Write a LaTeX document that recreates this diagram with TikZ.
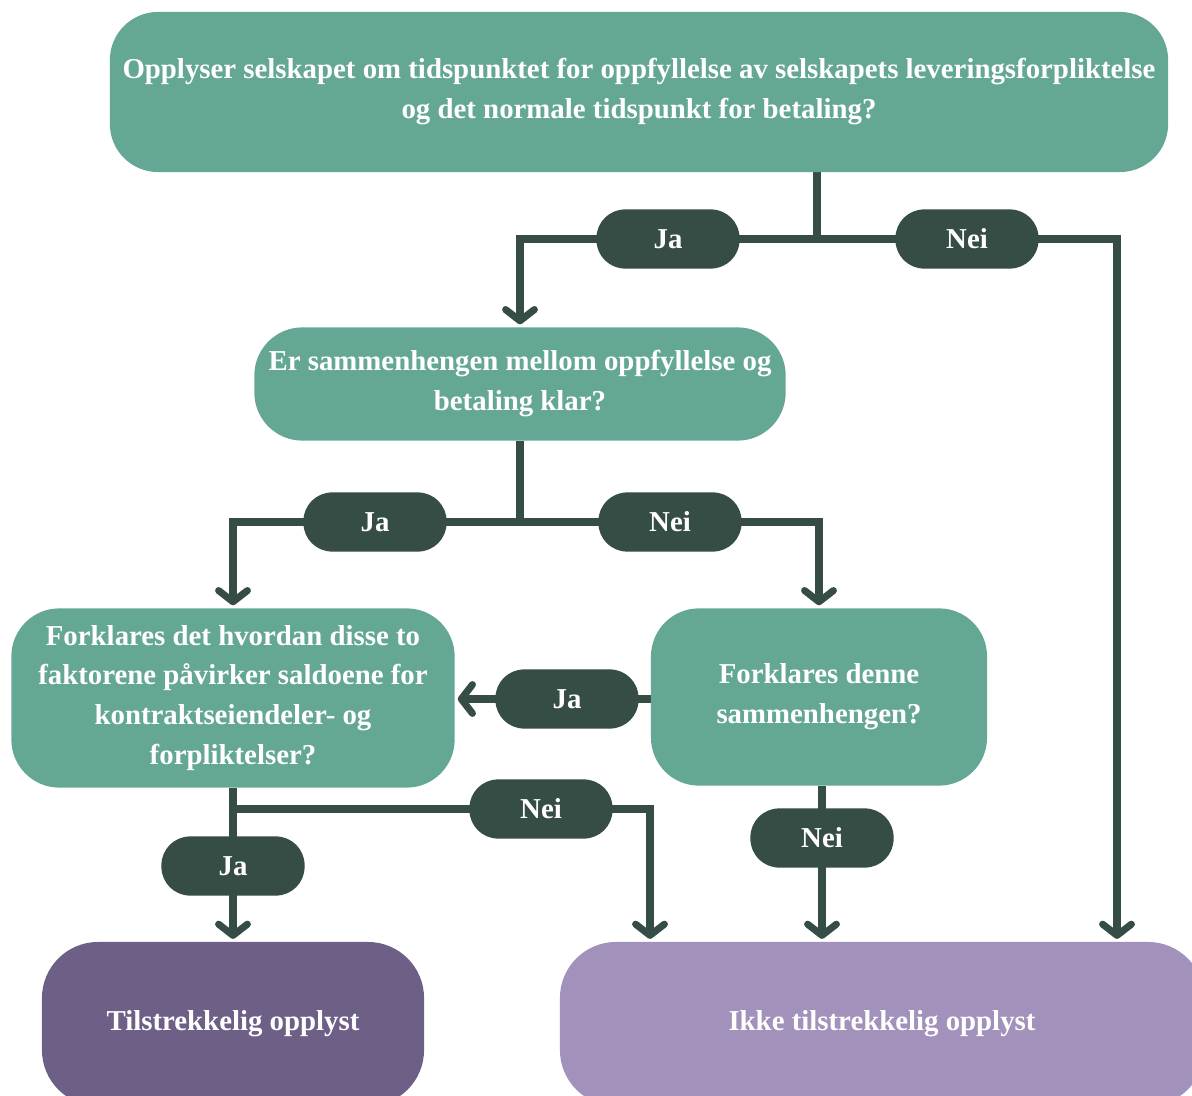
\documentclass[tikz,border=0pt]{standalone}
\usepackage{fontspec}
\setmainfont{Liberation Serif}
\usepackage{tikz}
\usetikzlibrary{arrows.meta, backgrounds}

\definecolor{teal}{HTML}{65A795}
\definecolor{darkgreen}{HTML}{364D46}
\definecolor{plum}{HTML}{6E5F86}
\definecolor{lilac}{HTML}{A291BA}

\begin{document}
\begin{tikzpicture}[
      x=0.025cm,
      y=-0.025cm,
      font=\fontsize{20.5}{28.4}\selectfont\bfseries,
      quest/.style={
          rectangle,
          rounded corners=1.2cm,
          align=center,
          inner sep=0pt,
          text=white,
          fill=teal
        },
      answer/.style={
          rectangle,
          rounded corners=0.72cm,
          align=center,
          inner sep=0pt,
          minimum width=3.58cm,
          minimum height=1.48cm,
          text=white,
          fill=darkgreen
        },
      result-ok/.style={
          rectangle,
          rounded corners=1.4cm,
          align=center,
          minimum width=9.55cm,
          minimum height=4.1cm,
          text=white,
          fill=plum
        },
      result-no/.style={
          rectangle,
          rounded corners=1.4cm,
          align=center,
          minimum width=16.1cm,
          minimum height=4.1cm,
          text=white,
          fill=lilac
        },
      line/.style={
          draw=darkgreen,
          line width=5pt
        },
      arrow/.style={
          line,
          -{Straight Barb[length=2.8mm, width=7.2mm, line cap=round, line join=round]},
          shorten >=2pt
        }
    ]
    \useasboundingbox (0,0) rectangle (1192,1096);

    % Nodes
    \node[quest, minimum width=26.45cm, minimum height=4cm] (main) at (639,92)
      {Opplyser selskapet om tidspunktet for oppfyllelse av selskapets leveringsforpliktelse\\og det normale tidspunkt for betaling?};
    \node[quest, minimum width=13.28cm, minimum height=2.83cm] (link) at (520,384)
      {Er sammenhengen mellom oppfyllelse og\\betaling klar?};
    \node[quest, minimum width=11.08cm, minimum height=4.48cm] (effect) at (233,698)
      {Forklares det hvordan disse to\\faktorene påvirker saldoene for\\kontraktseiendeler- og\\forpliktelser?};
    \node[quest, minimum width=8.4cm, minimum height=4.43cm] (explain) at (819,697)
      {Forklares denne\\sammenhengen?};
    \node[result-ok] (ok) at (233,1024) {Tilstrekkelig opplyst};
    \node[result-no] (notok) at (882,1024) {Ikke tilstrekkelig opplyst};

    \node[answer] (ja-main) at (668,239) {Ja};
    \node[answer] (nei-main) at (967,239) {Nei};
    \node[answer] (ja-link) at (375,522) {Ja};
    \node[answer] (nei-link) at (670,522) {Nei};
    \node[answer] (ja-explain) at (567,699) {Ja};
    \node[answer] (nei-effect) at (541,809) {Nei};
    \node[answer] (ja-effect) at (233,866) {Ja};
    \node[answer] (nei-explain) at (822,838) {Nei};

    \coordinate (j-main) at (817,239);
    \coordinate (nei-turn) at (1117,239);
    \coordinate (j-link) at (520,522);
    \coordinate (j-effect) at (233,809);
    \coordinate (nei-drop) at (650,809);

    % Arrows
    \begin{scope}[on background layer]
      \draw[line] (main.south -| j-main) -- (j-main);
      \draw[arrow] (j-main) -| (link.north);
      \draw[arrow] (j-main) -- (nei-turn) -- (nei-turn |- notok.north);
      \draw[line] (link.south) -- (j-link);
      \draw[arrow] (j-link) -| (effect.north);
      \draw[arrow] (j-link) -| (explain.north);
      \draw[arrow] (explain.west |- ja-explain) -- (effect.east |- ja-explain);
      \draw[arrow] (effect.south) -- (ok.north);
      \draw[arrow] (j-effect) -- (nei-drop) -- (nei-drop |- notok.north);
      \draw[arrow] (explain.south -| nei-explain) -- (nei-explain |- notok.north);
    \end{scope}
  \end{tikzpicture}
\end{document}
